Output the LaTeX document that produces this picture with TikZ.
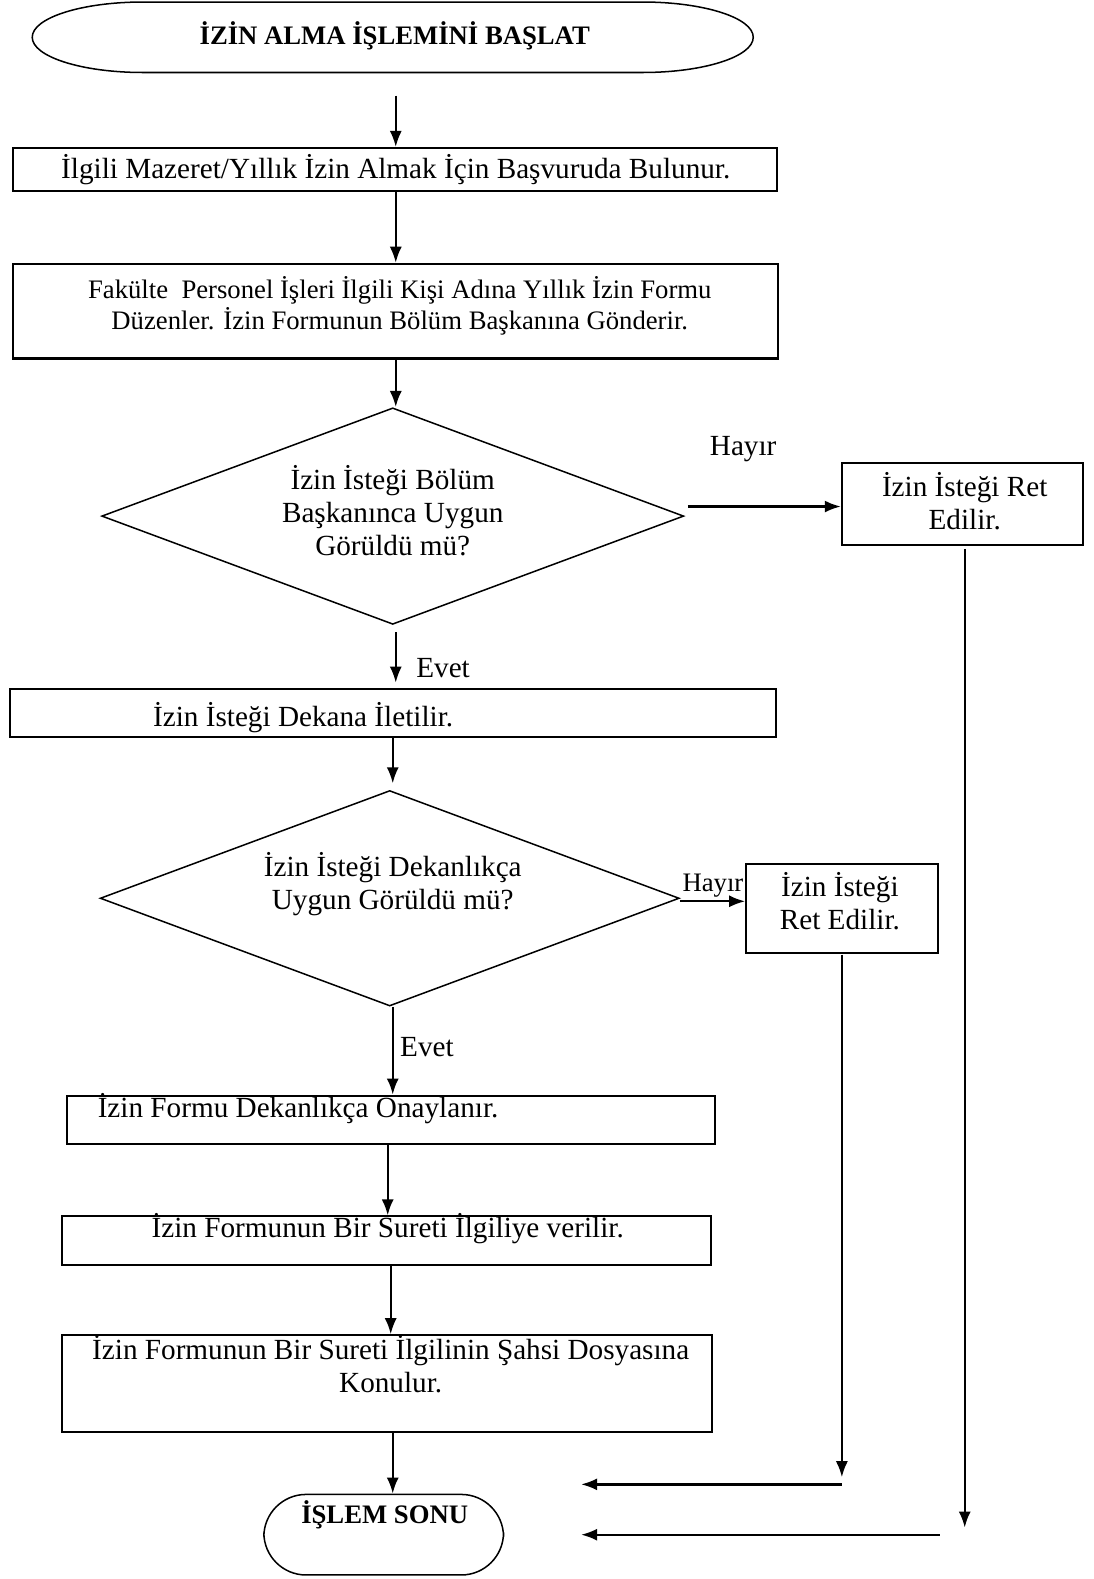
\documentclass[tikz,border=0pt]{standalone}
\usepackage{fontspec}
\setmainfont{Liberation Serif}
\usetikzlibrary{arrows.meta,shapes.geometric}
\newcommand{\bigtxt}{\fontsize{29}{33}\selectfont}
\newcommand{\midtxt}{\fontsize{26.5}{31}\selectfont}
\begin{document}
\begin{tikzpicture}[x=1pt,y=-1pt,
  box/.style={draw,line width=2pt,rectangle,inner sep=0pt},
  dia/.style={draw,line width=1.5pt,diamond,inner sep=0pt},
  arr/.style={line width=2.3pt,-{Latex[length=16pt,width=12pt]}},
  txt/.style={inner sep=0pt,align=center,font=\bigtxt},
  txtm/.style={inner sep=0pt,align=center,font=\midtxt}]
\useasboundingbox (0,0) rectangle (1086,1568);
% start terminal
\draw[line width=1.5pt] (142,2) -- (638,2) arc[start angle=-90,end angle=90,x radius=110,y radius=35]
  -- (142,72) arc[start angle=90,end angle=270,x radius=110,y radius=35] -- cycle;
\node[txtm,font=\midtxt\bfseries] (start) at (392,36) {İZİN ALMA İŞLEMİNİ BAŞLAT};
% boxes
\node[box,minimum width=759pt,minimum height=43pt] (b1) at (392.5,168.5) {};
\node[box,minimum width=760pt,minimum height=94pt] (b2) at (393,309) {};
\node[box,minimum width=239pt,minimum height=81pt] (r1) at (955.5,500.5) {};
\node[box,minimum width=761pt,minimum height=48pt] (b3) at (390.5,708) {};
\node[box,minimum width=190pt,minimum height=88pt] (r2) at (836,902) {};
\node[box,minimum width=643pt,minimum height=48pt] (b4) at (388.5,1112) {};
\node[box,minimum width=644pt,minimum height=48pt] (b5) at (384,1232) {};
\node[box,minimum width=645pt,minimum height=96pt] (b6) at (384.5,1374) {};
% diamonds
\node[dia,minimum width=578pt,minimum height=215pt] (d1) at (390,512.5) {};
\node[dia,minimum width=575pt,minimum height=214pt] (d2) at (387,892) {};
% end terminal
\node[draw,line width=1.5pt,rounded corners=42pt,minimum width=238pt,minimum height=80pt,inner sep=0pt] (end) at (381,1524) {};
% texts
\node[txt] (t1) at (393,168) {İlgili Mazeret/Yıllık İzin Almak İçin Başvuruda Bulunur.};
\node[txtm] (t2) at (397,304) {Fakülte\ \ Personel İşleri İlgili Kişi Adına Yıllık İzin Formu\\Düzenler. İzin Formunun Bölüm Başkanına Gönderir.};
\node[txt] (td1) at (390,507) {İzin İsteği Bölüm\\Başkanınca Uygun\\Görüldü mü?};
\node[txt] (h1) at (738,446) {Hayır};
\node[txt] (tr1) at (958,498) {İzin İsteği Ret\\Edilir.};
\node[txt] (e1) at (440,663) {Evet};
\node[txt] (t3) at (301,713) {İzin İsteği Dekana İletilir.};
\node[txt] (td2) at (390,878) {İzin İsteği Dekanlıkça\\Uygun Görüldü mü?};
\node[txtm] (h2) at (708,879) {Hayır};
\node[txt] (tr2) at (834,895) {İzin İsteği\\Ret Edilir.};
\node[txt] (e2) at (424,1040) {Evet};
\node[txt] (t4) at (296,1101) {İzin Formu Dekanlıkça Onaylanır.};
\node[txt] (t5) at (385,1220) {İzin Formunun Bir Sureti İlgiliye verilir.};
\node[txt] (t6) at (388,1355) {İzin Formunun Bir Sureti İlgilinin Şahsi Dosyasına\\Konulur.};
\node[txtm,font=\midtxt\bfseries] (tend) at (382,1504) {İŞLEM SONU};
% free coordinates
\coordinate (s0) at (393,95);
\coordinate (d1o) at (393,628);
\coordinate (d1in) at (393,678);
\coordinate (h1s) at (683,503);
\coordinate (r1o) at (958,545);
\coordinate (r1e) at (958,1517);
\coordinate (b3o) at (390,733);
\coordinate (d2in) at (390,778);
\coordinate (r2o) at (836,948);
\coordinate (r2e) at (836,1467);
\coordinate (a1s) at (836,1474);
\coordinate (a1e) at (577,1474);
\coordinate (a2s) at (933,1524);
\coordinate (a2e) at (577,1524);
\coordinate (x4) at (385,0);
\coordinate (x5) at (388,0);
% connectors
\draw[arr] (s0) -- (s0 |- b1.north);
\draw[arr] (b1.south -| s0) -- (s0 |- b2.north);
\draw[arr] (b2.south -| s0) -- (s0 |- d1.north);
\draw[arr] (d1o) -- (d1in);
\draw[arr] (h1s) -- (h1s -| r1.west);
\draw[arr] (r1o) -- (r1e);
\draw[arr] (b3o) -- (d2in);
\draw[arr] (d2.east) ++(0,3) coordinate (d2e) -- (d2e -| r2.west);
\draw[arr] (r2o) -- (r2e);
\draw[arr] (b3o |- d2.south) -- (b3o |- b4.north);
\draw[arr] (x4 |- b4.south) -- (x4 |- b5.north);
\draw[arr] (x5 |- b5.south) -- (x5 |- b6.north);
\draw[arr] (b3o |- b6.south) -- (b3o |- end.north);
\draw[arr] (a1s) -- (a1e);
\draw[arr] (a2s) -- (a2e);
\end{tikzpicture}
\end{document}
